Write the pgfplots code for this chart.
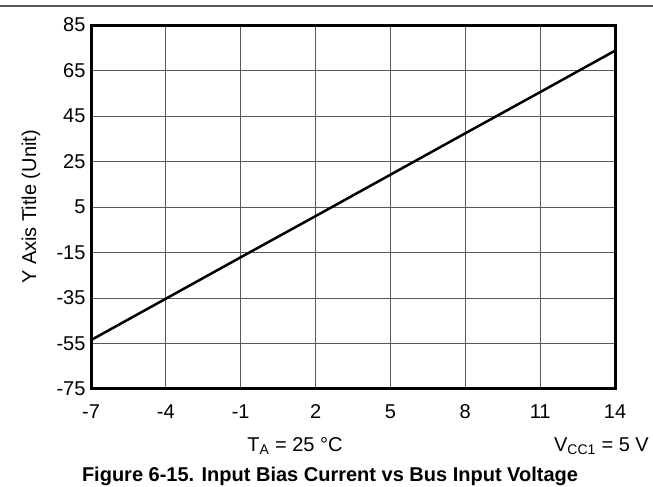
\documentclass[border=0pt]{standalone}
\usepackage{fontspec}
\setmainfont{Liberation Sans}
\usepackage{pgfplots}
\pgfplotsset{compat=1.18}
\begin{document}
\begin{tikzpicture}[x=1pt,y=1pt]
\useasboundingbox (0,0) rectangle (653,487);
\draw[color={rgb,255:red,90;green,90;blue,90}, line width=2pt] (0,481) -- (653,481);
\begin{axis}[
 at={(91pt,98pt)}, anchor=south west,
 scale only axis, width=524pt, height=364pt,
 xmin=-7, xmax=14, ymin=-75, ymax=85,
 xtick={-7,-4,...,14}, ytick={-75,-55,...,85},
 grid=major, major grid style={line width=0.9pt, color=black!65},
 axis line style={line width=3pt},
 major tick length=0pt,
 tick label style={font=\fontsize{20}{24}\selectfont},
 /pgf/number format/assume math mode=true,
 xticklabel style={anchor=base, yshift=-30pt},
 yticklabel style={anchor=east, xshift=-2pt},
]
\addplot[black, line width=2.5pt] coordinates {(-7,-53.5) (-4,-35.3) (-1,-17.1) (2,1.0) (5,19.2) (8,37.4) (11,55.5) (14,73.7)};
\end{axis}
\node[rotate=90, font=\fontsize{20}{24}\selectfont] at (31,280) {Y Axis Title (Unit)};
\node[font=\fontsize{20}{24}\selectfont] at (295,41) {T\textsubscript{A} = 25 °C};
\node[anchor=east, font=\fontsize{20}{24}\selectfont, inner sep=0pt] at (649,41) {V\textsubscript{CC1} = 5 V};
\node[anchor=base, font=\bfseries\fontsize{20}{24}\selectfont, inner sep=0pt] at (330,5.5) {Figure 6-15. Input Bias Current vs Bus Input Voltage};
\end{tikzpicture}
\end{document}
